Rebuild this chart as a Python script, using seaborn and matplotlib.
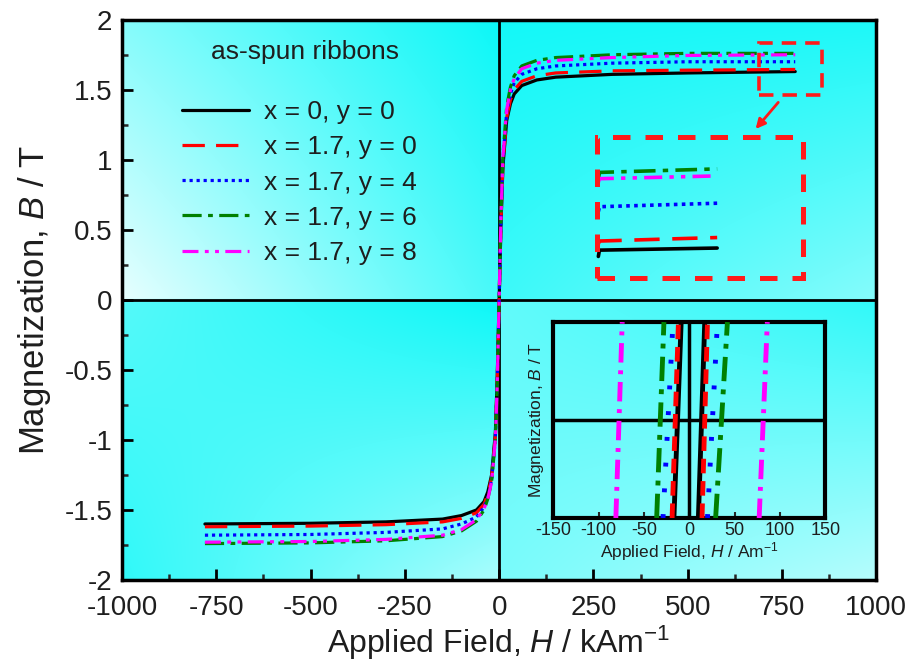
import numpy as np
import pandas as pd
import matplotlib
matplotlib.use('Agg')
import matplotlib.pyplot as plt
import seaborn as sns
from matplotlib.patches import Rectangle

samples = ['x = 0, y = 0', 'x = 1.7, y = 0', 'x = 1.7, y = 4',
           'x = 1.7, y = 6', 'x = 1.7, y = 8']
colors = ['#000000', '#ff0000', '#0000ff', '#008000', '#ff00ff']

# main loop, applied field in kA/m
field = [-780, -500, -300, -150, -100, -60, -40, -30, -20, -10, -5, 0,
         5, 10, 20, 30, 40, 60, 100, 150, 300, 500, 785]
b_x0_y0 = [-1.60, -1.595, -1.585, -1.565, -1.54, -1.50, -1.44, -1.37, -1.25, -0.95, -0.55, 0,
           0.55, 0.95, 1.28, 1.40, 1.47, 1.53, 1.57, 1.59, 1.61, 1.62, 1.63]
b_x17_y0 = [-1.62, -1.615, -1.605, -1.585, -1.56, -1.52, -1.46, -1.39, -1.27, -0.97, -0.57, 0,
            0.57, 0.97, 1.30, 1.43, 1.50, 1.56, 1.60, 1.62, 1.635, 1.64, 1.645]
b_x17_y4 = [-1.68, -1.675, -1.66, -1.635, -1.60, -1.55, -1.48, -1.41, -1.29, -0.99, -0.58, 0,
            0.60, 1.00, 1.34, 1.47, 1.55, 1.61, 1.65, 1.67, 1.69, 1.70, 1.70]
b_x17_y6 = [-1.74, -1.735, -1.72, -1.69, -1.65, -1.58, -1.50, -1.42, -1.30, -1.00, -0.60, 0,
            0.62, 1.03, 1.38, 1.52, 1.60, 1.67, 1.71, 1.73, 1.75, 1.76, 1.76]
b_x17_y8 = [-1.73, -1.725, -1.71, -1.68, -1.64, -1.57, -1.49, -1.42, -1.30, -1.00, -0.60, 0,
            0.61, 1.02, 1.36, 1.50, 1.58, 1.65, 1.69, 1.71, 1.73, 1.745, 1.75]
main_b = [b_x0_y0, b_x17_y0, b_x17_y4, b_x17_y6, b_x17_y8]

# magnified saturation region (drawn inside the big dashed box)
zoom_field = [263, 266, 578]
zoom_b = [[0.31, 0.355, 0.37],
          [0.40, 0.42, 0.445],
          [0.63, 0.665, 0.69],
          [0.86, 0.91, 0.935],
          [0.84, 0.865, 0.885]]

# inset: loop branches near coercivity, field in A/m, at bottom and top of frame
inset_b = [-1, 1]
left_branch = [[-17, -9], [-19, -12], [-29, -18], [-36, -28], [-81, -74]]
right_branch = [[10, 17], [14, 20], [20, 31], [29, 42], [77, 86]]

# ---- long form tables
rows = []
for s, bvals in zip(samples, main_b):
    for h, b in zip(field, bvals):
        rows.append((s, h, b))
main_df = pd.DataFrame(rows, columns=['sample', 'H', 'B'])

rows = []
for s, bvals in zip(samples, zoom_b):
    for h, b in zip(zoom_field, bvals):
        rows.append((s, h, b))
zoom_df = pd.DataFrame(rows, columns=['sample', 'H', 'B'])

rows = []
for s, lb, rb in zip(samples, left_branch, right_branch):
    for h, b in zip(lb, inset_b):
        rows.append((s, 'left', h, b))
    for h, b in zip(rb, inset_b):
        rows.append((s, 'right', h, b))
inset_df = pd.DataFrame(rows, columns=['sample', 'branch', 'H', 'B'])

sns.set_theme(style='ticks')
plt.rcParams['font.family'] = ['Liberation Sans', 'DejaVu Sans']
plt.rcParams['mathtext.fontset'] = 'custom'
plt.rcParams['mathtext.rm'] = 'Liberation Sans'
plt.rcParams['mathtext.it'] = 'Liberation Sans:italic'
plt.rcParams['axes.unicode_minus'] = False
txt = '#1e1e1e'

palette = dict(zip(samples, colors))
main_dashes = dict(zip(samples, ['', (7, 3.5), (1, 1.2), (6, 2, 1.5, 2), (5, 2, 1.2, 2, 1.2, 2)]))
inset_dashes = dict(zip(samples, ['', (3, 1.6), (0.8, 4.5), (5, 1.7, 1, 1.7), (4, 1.6, 0.8, 1.6)]))

fig = plt.figure(figsize=(9.1, 6.71), dpi=100)
ax = fig.add_axes([0.134, 0.1356, 0.829, 0.835])

# background: cyan/white shading per quadrant
def shade(tl, tr, bl, br, n=120):
    u = np.linspace(0, 1, n)[None, :]
    v = np.linspace(0, 1, n)[:, None]
    return tl*(1-u)*(1-v) + tr*u*(1-v) + bl*(1-u)*v + br*u*v

w = np.block([[shade(0.55, 0.05, 0.95, 0.3), shade(0.08, 0.12, 0.25, 0.55)],
              [shade(0.35, 0.05, 0.2, 0.7), shade(0.4, 0.2, 0.5, 0.75)]])
cyan = np.array([0.0, 0.97, 0.97])
white = np.array([0.95, 1.0, 1.0])
img = cyan[None, None, :] + w[:, :, None] * (white - cyan)[None, None, :]
ax.imshow(img, extent=[-1000, 1000, -2, 2], aspect='auto', zorder=0,
          interpolation='bilinear')

ax.axhline(0, color='black', lw=2, zorder=1)
ax.axvline(0, color='black', lw=2, zorder=1)

sns.lineplot(data=main_df, x='H', y='B', hue='sample', style='sample',
             hue_order=samples, style_order=samples, palette=palette,
             dashes=main_dashes, sort=False, estimator=None, lw=2.3,
             legend=False, ax=ax, zorder=3)
handles = list(ax.lines[2:7])

sns.lineplot(data=zoom_df, x='H', y='B', hue='sample', style='sample',
             hue_order=samples, style_order=samples, palette=palette,
             dashes=main_dashes, sort=False, estimator=None, lw=2.6,
             legend=False, ax=ax, zorder=3)

# zoom boxes and arrow
ax.add_patch(Rectangle((690, 1.464), 167, 0.372, fill=False, ec='#ff1a1a',
                       lw=2.6, ls=(0, (4, 2.5)), zorder=4))
ax.add_patch(Rectangle((260, 0.157), 546, 1.003, fill=False, ec='#ff1a1a',
                       lw=3.6, ls=(0, (3.5, 3)), zorder=4))
ax.annotate('', xy=(680, 1.22), xytext=(740, 1.41),
            arrowprops=dict(arrowstyle='-|>', color='#ff1a1a', lw=2,
                            mutation_scale=14, shrinkA=0, shrinkB=0), zorder=4)

ax.set_xlim(-1000, 1000)
ax.set_ylim(-2, 2)
ax.set_xticks(np.arange(-1000, 1001, 250))
ax.set_xticks(np.arange(-875, 1000, 250), minor=True)
ax.set_yticks(np.arange(-2, 2.01, 0.5))
ax.set_yticks(np.arange(-1.75, 2, 0.5), minor=True)
ax.set_yticklabels(['{:g}'.format(v) for v in np.arange(-2, 2.01, 0.5)])
ax.tick_params(which='major', direction='in', length=8, width=2,
               labelsize=20, colors='black', labelcolor=txt)
ax.tick_params(axis='x', which='major', pad=11)
ax.tick_params(axis='y', which='major', pad=7)
ax.tick_params(which='minor', direction='in', length=4, width=1.8)
for sp in ax.spines.values():
    sp.set_linewidth(2.5)
    sp.set_color('black')

ax.set_xlabel('Applied Field, $\\it{H}$ / kAm$^{\\mathregular{-1}}$', fontsize=23,
              color=txt, labelpad=2)
ax.set_ylabel('Magnetization, $\\it{B}$ / T', fontsize=25, color=txt, labelpad=8)

ax.text(-515, 1.77, 'as-spun ribbons', fontsize=19, color=txt,
        ha='center', va='center', zorder=5)
ax.legend(handles, samples, loc='upper left', bbox_to_anchor=(0.08, 0.856),
          frameon=False, fontsize=19, handlelength=2.54, handletextpad=0.57,
          labelspacing=0.42, borderpad=0, borderaxespad=0, labelcolor=txt)

# inset
ins = fig.add_axes([0.608, 0.228, 0.299, 0.292])
ins.patch.set_alpha(0)
ins.axhline(0, color='black', lw=2.5, zorder=1)
ins.axvline(0, color='black', lw=2.5, zorder=1)
sns.lineplot(data=inset_df, x='H', y='B', hue='sample', style='sample',
             units='branch', hue_order=samples, style_order=samples,
             palette=palette, dashes=inset_dashes, sort=False, estimator=None,
             lw=3.5, legend=False, ax=ins, zorder=3)
ins.set_xlim(-150, 150)
ins.set_ylim(-1, 1)
ins.set_xticks(np.arange(-150, 151, 50))
ins.set_yticks([])
ins.tick_params(direction='in', length=4, width=1.5, labelsize=13,
                labelcolor=txt, pad=3)
for sp in ins.spines.values():
    sp.set_linewidth(3)
    sp.set_color('black')
ins.set_xlabel('Applied Field, $\\it{H}$ / Am$^{\\mathregular{-1}}$', fontsize=12.5,
               color=txt, labelpad=1)
ins.set_ylabel('Magnetization, $\\it{B}$ / T', fontsize=12.5, color=txt, labelpad=5)

fig.savefig('out.png', dpi=100, facecolor='white')
